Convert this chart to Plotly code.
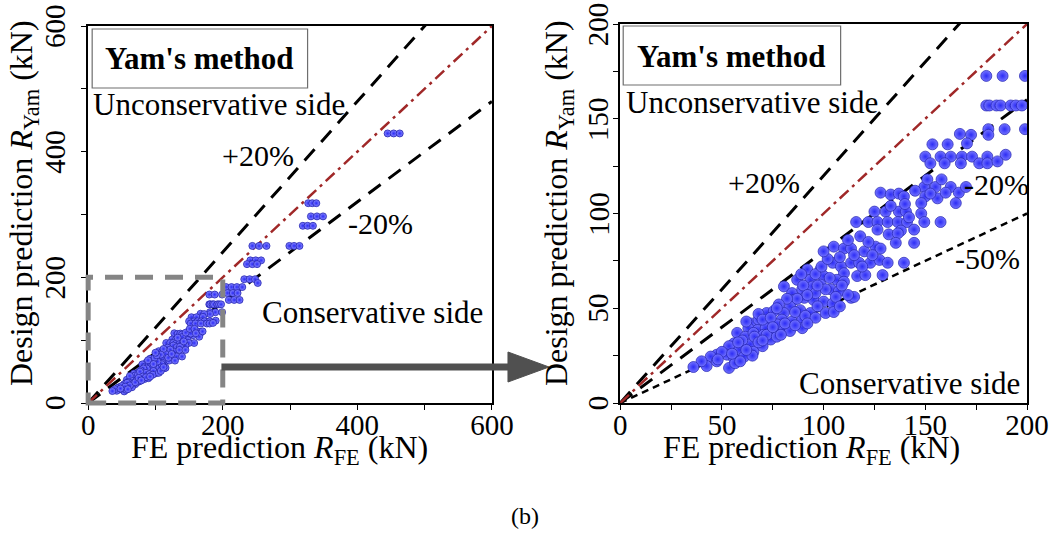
import plotly.graph_objects as go

W, H = 1050, 542

# ---------------- data (FE prediction vs Yam's design prediction, kN) ----------------
fe_kn = [
    180, 188, 199,
    180, 181.5, 185, 187, 192, 194.5, 197.5,
    181, 189, 199,
    181, 167, 172.5,
    153.5, 161, 170.5,
    150, 157.5, 162.5, 168, 173, 180.5, 189.5,
    152.5, 159.5, 167.5, 176.5, 180.5, 185.5,
    149.5, 155, 162.5, 166.5, 165, 156, 150, 148, 157.5, 152.5,
    128, 133, 137, 139.5,
    125, 130.5, 137, 140.5, 148,
    116, 122, 126.5, 131.5, 136.5, 141, 149.5,
    144.5, 138, 126.5, 132, 136.5,
    105, 110, 113.5, 120, 125.5, 128, 135.5, 144.5,
    104.5, 108.5, 113.5, 117.5, 123, 127.5, 131.5, 139.5,
    98.5, 110, 116.5, 120.5, 129,
    92, 87, 93.5, 100, 106.5, 110,
    80.5, 84.5, 89.5, 94.5, 98.5, 103.5, 107.5,
    85.5, 90.5, 95, 100, 104.5, 113.5, 115,
    83.5, 88.5, 93.5, 101,
    72, 75.5, 80.5, 79.5, 84.5, 89.5,
    64, 68, 72, 77,
    63, 67.5, 71.5, 75.5, 80.5, 83.5, 89.5,
    57.5, 61.5, 65.5, 70.5, 74,
    56, 60, 64, 70,
    53.5, 58.5, 65.5,
    52.5, 56, 61, 65,
    47.5, 44.5,
    53.5, 56.5,
    47.5, 42.5,
    40, 36,
    90, 96, 101, 92, 87, 97, 106, 109, 103, 96, 99, 89,
    82, 78, 86, 91, 96, 105, 108, 112,
    68, 70, 74, 77, 81, 86, 92, 62, 66, 60, 68, 72, 77,
    58, 62, 50, 55, 48, 59, 70, 75, 79,
    118, 122, 115, 119, 124, 112, 108, 102, 100, 97,
    140, 145, 142, 133, 151, 158, 160, 170,
    # larger specimens (triplets)
    445, 454, 463,
    327, 333, 339,
    331, 340, 349,
    319, 326, 334,
    244, 254, 265,
    299, 306, 314,
    241, 249, 257,
    236, 244, 251,
    232, 240, 248, 252,
    205, 213, 221, 229,
    207, 215, 222,
    209, 217, 225,
]
yam_kn = [
    172.6, 172.6, 172.6,
    157, 157, 157, 157, 157, 157, 157,
    144.5, 144.5, 144.5,
    141.5, 142, 141.5,
    136.5, 136.5, 137,
    130, 130, 130, 130, 130, 130, 131,
    126.5, 126.5, 126.5, 126.5, 126.5, 127.5,
    114, 114, 114, 111, 105.5, 108, 109, 105.5, 95.5, 110.5,
    111, 110, 110.5, 109,
    101, 101, 101, 101, 100,
    95.5, 95.5, 95.5, 95.5, 95.5, 95.5, 95.5,
    91.5, 91, 91.5, 89, 89.5,
    82.5, 81.5, 81.5, 80, 82.5, 81.5, 84.5, 84.5,
    74, 72, 74, 74, 74, 75.5, 74, 74,
    70.5, 68.5, 67, 67.5, 67.5,
    70.5, 65, 65, 67, 65, 64,
    61.5, 58, 60, 61.5, 62.5, 60, 59,
    54.5, 55.5, 54.5, 53.5, 52.5, 55.5, 56,
    51, 49, 47.5, 47.5,
    47.5, 48.5, 47.5, 44, 43, 44,
    42, 44, 42, 41.5,
    39.5, 38.5, 39.5, 37, 38.5, 38, 39.5,
    37, 35, 37, 36, 33.5,
    31.5, 30, 31, 30,
    30, 28, 27,
    25.5, 23.5, 24.5, 25,
    25.5, 24.5,
    18.5, 21,
    22, 19.5,
    22, 19,
    62, 58, 60, 57, 55, 51, 56, 62, 66, 68, 72, 68,
    55, 52, 48, 46, 45, 48, 51, 57,
    47, 44, 45, 50, 42, 41, 42, 43, 35, 33, 32, 36, 35,
    32, 28, 27, 26, 23, 22, 33, 40, 36,
    88, 85, 78, 72, 78, 86, 77, 76, 80, 62,
    105, 112, 98, 104, 118, 118, 111, 114,
    429, 429, 429,
    318, 318, 318,
    297, 297, 297,
    282, 282, 282,
    250, 250, 250,
    250, 250, 250,
    227, 227, 227,
    221, 221, 221,
    197, 197, 197, 191,
    184.5, 184.5, 184.5, 184.5,
    175, 175, 175,
    164, 164, 164,
]

left_range = [0, 600]
right_range = [0, 200]
left_tickvals = [0, 100, 200, 300, 400, 500, 600]
left_ticktext = ["0", "", "200", "", "400", "", "600"]
right_tickvals = [0, 25, 50, 75, 100, 125, 150, 175, 200]
right_ticktext = ["0", "", "50", "", "100", "", "150", "", "200"]

ratio_equal = 1.0
ratios_left = [1.2, 0.8]
ratios_right = [1.2, 0.8, 0.5]
zoom_box_max = 200

# ---------------- styling ----------------
SERIF = "Liberation Serif, Times New Roman, serif"
BLUE_C = "#7474ff"
BLUE_E = "#2c2cf5"
BLUE_L = "#2020b0"
RED = "#a02828"

# the page places the figure with a small offset and narrower width; map target pixels to paper
X_OFF, X_SPAN = 8.0, 1019.0


def PX(x):
    return (x - X_OFF) / X_SPAN


def PY(y):
    return 1 - y / H


LEFT_XDOM = [PX(89), PX(492)]
RIGHT_XDOM = [PX(620), PX(1026)]
LEFT_YDOM = [PY(403), PY(26)]
RIGHT_YDOM = [PY(403), PY(24)]

fig = go.Figure()

# reference lines
for xa, ya, rng, ratios in [("x", "y", left_range, ratios_left), ("x2", "y2", right_range, ratios_right)]:
    xmax = rng[1]
    for k in ratios:
        if k == 0.5:
            dash, wid = "7px,5px", 2.5
        else:
            dash, wid = "15px,10px", 3
        fig.add_trace(go.Scatter(x=[0, xmax], y=[0, k * xmax], mode="lines", xaxis=xa, yaxis=ya,
                                 line=dict(color="black", width=wid, dash=dash), hoverinfo="skip",
                                 showlegend=False))
    fig.add_trace(go.Scatter(x=[0, xmax], y=[0, ratio_equal * xmax], mode="lines", xaxis=xa, yaxis=ya,
                             line=dict(color=RED, width=2.5, dash="12px,5px,3px,5px"), hoverinfo="skip",
                             showlegend=False))

# points
fig.add_trace(go.Scatter(x=fe_kn, y=yam_kn, mode="markers", xaxis="x", yaxis="y", showlegend=False,
                         marker=dict(size=7, color="#8a8aff", gradient=dict(type="radial", color=BLUE_E),
                                     line=dict(color=BLUE_L, width=0.8))))
fig.add_trace(go.Scatter(x=fe_kn, y=yam_kn, mode="markers", xaxis="x2", yaxis="y2", showlegend=False,
                         marker=dict(size=11, color=BLUE_C, gradient=dict(type="radial", color=BLUE_E),
                                     line=dict(color=BLUE_L, width=0.7))))

ax_common = dict(showgrid=False, zeroline=False, showline=True, linecolor="black", linewidth=1.5,
                 mirror=True, ticks="outside", ticklen=5, tickcolor="black", tickwidth=1.2,
                 tickfont=dict(family=SERIF, size=29, color="black"))

fig.update_layout(
    width=W, height=H, margin=dict(l=0, r=0, t=0, b=0),
    paper_bgcolor="white", plot_bgcolor="white",
    xaxis=dict(domain=LEFT_XDOM, range=left_range, tickvals=left_tickvals, ticktext=left_ticktext,
               anchor="y", ticklabelstandoff=-10, **ax_common),
    yaxis=dict(domain=LEFT_YDOM, range=left_range, tickvals=left_tickvals, showticklabels=False,
               anchor="x", **ax_common),
    xaxis2=dict(domain=RIGHT_XDOM, range=right_range, tickvals=right_tickvals,
                ticktext=right_ticktext, anchor="y2", ticklabelstandoff=-10, **ax_common),
    yaxis2=dict(domain=RIGHT_YDOM, range=right_range, tickvals=right_tickvals, showticklabels=False,
                anchor="x2", **ax_common),
)

# zoom box on left plot
fig.add_shape(type="rect", xref="x domain", yref="y domain", x0=0, y0=0,
              x1=zoom_box_max / left_range[1], y1=zoom_box_max / left_range[1],
              line=dict(color="#858585", width=5, dash="18px,12px"), layer="above")

# arrow
fig.add_shape(type="line", xref="paper", yref="paper", x0=PX(222), x1=PX(512), y0=PY(367), y1=PY(367),
              line=dict(color="#505050", width=7))
fig.add_shape(type="path", xref="paper", yref="paper",
              path=f"M {PX(508)},{PY(352)} L {PX(549)},{PY(367)} L {PX(508)},{PY(382)} Z",
              fillcolor="#505050", line=dict(color="#505050", width=1))


def txt(text, x, y, size=30, xanchor="left", bold=False, angle=0, **kw):
    t = f"<b>{text}</b>" if bold else text
    fig.add_annotation(text=t, x=PX(x), y=PY(y), xref="paper", yref="paper", xanchor=xanchor,
                       yanchor="middle", showarrow=False, textangle=angle,
                       font=dict(family=SERIF, size=size, color="black"), **kw)


# rotated y tick labels (placed along each y axis' scale)
for vals, texts, rng, dom, xcen in [(left_tickvals, left_ticktext, left_range, LEFT_YDOM, 56),
                                    (right_tickvals, right_ticktext, right_range, RIGHT_YDOM, 598)]:
    for v, t in zip(vals, texts):
        if not t:
            continue
        yp = dom[0] + (v - rng[0]) / (rng[1] - rng[0]) * (dom[1] - dom[0])
        fig.add_annotation(text=t, x=PX(xcen), y=yp, xref="paper", yref="paper", xanchor="center",
                           yanchor="middle", showarrow=False, textangle=-90,
                           font=dict(family=SERIF, size=29, color="black"))

# method boxes
for (x0, x1, y0, y1) in [(93, 308, 29, 88), (623, 840, 26, 85)]:
    fig.add_shape(type="rect", xref="paper", yref="paper", x0=PX(x0), x1=PX(x1), y0=PY(y0), y1=PY(y1),
                  line=dict(color="#6e6e6e", width=1.2), fillcolor="white", layer="above")
txt("Yam's method", 200, 59, size=31, bold=True, xanchor="center")
txt("Yam's method", 731, 56, size=31, bold=True, xanchor="center")

# left plot texts
txt("Unconservative side", 92, 104, size=31)
txt("+20%", 221, 155)
txt("-20%", 346, 224)
txt("Conservative side", 261, 312, size=31)
# right plot texts
txt("Unconservative side", 624, 103, size=31)
txt("+20%", 726, 182)
txt("-20%", 961, 184)
txt("-50%", 952, 258)
txt("Conservative side", 796, 383, size=31)

# axis titles
ytitle = "Design prediction <i>R</i><sub>Yam</sub> (kN)"
xtitle = "FE prediction <i>R</i><sub>FE</sub> (kN)"
txt(ytitle, 25, 203, size=32, xanchor="center", angle=-90)
txt(ytitle, 559, 203, size=32, xanchor="center", angle=-90)
txt(xtitle, 280, 449, size=32, xanchor="center")
txt(xtitle, 811, 449, size=32, xanchor="center")
txt("(b)", 525, 516, size=24, xanchor="center")

fig.write_html("out.html")
